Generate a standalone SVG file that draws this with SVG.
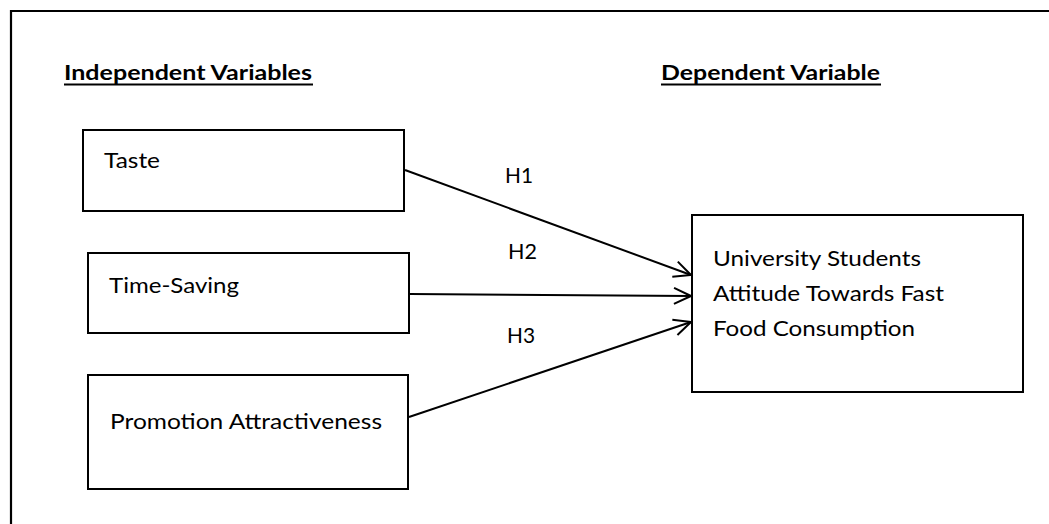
<svg xmlns="http://www.w3.org/2000/svg" width="1049" height="524" viewBox="0 0 1049 524">
<style>
.box{fill:#fff;stroke:#000;stroke-width:2}
.t{font-family:Lato,"Open Sans","Liberation Sans",sans-serif;font-size:21px;fill:#000}
.h{font-family:Lato,"Open Sans","Liberation Sans",sans-serif;font-size:21px;font-weight:bold;fill:#000}
.c{stroke:#000;stroke-width:2;fill:none;marker-end:url(#arr)}
</style>
<defs>
<marker id="arr" markerUnits="userSpaceOnUse" viewBox="0 0 22 22" refX="20" refY="11" markerWidth="22" markerHeight="22" orient="auto">
<path d="M3,3 L20,11 L3,19" fill="none" stroke="#000" stroke-width="2"/>
</marker>
</defs>
<rect width="1049" height="524" fill="#fff"/>
<path d="M11,524 V11 H1049" fill="none" stroke="#000" stroke-width="2.2"/>
<g id="header-independent">
<text class="h" x="64" y="80" textLength="248" lengthAdjust="spacingAndGlyphs">Independent Variables</text>
<line x1="64" y1="84.5" x2="313" y2="84.5" stroke="#000" stroke-width="2"/>
</g>
<g id="header-dependent">
<text class="h" x="661" y="80" textLength="219" lengthAdjust="spacingAndGlyphs">Dependent Variable</text>
<line x1="661" y1="84.5" x2="881" y2="84.5" stroke="#000" stroke-width="2"/>
</g>
<g id="connectors">
<line class="c" x1="405" y1="170" x2="691" y2="275"/>
<line class="c" x1="410" y1="294" x2="691" y2="296"/>
<line class="c" x1="409" y1="417" x2="691" y2="322"/>
<text class="t" x="505" y="183" textLength="28" lengthAdjust="spacingAndGlyphs">H1</text>
<text class="t" x="508" y="259" textLength="29" lengthAdjust="spacingAndGlyphs">H2</text>
<text class="t" x="507" y="343" textLength="28" lengthAdjust="spacingAndGlyphs">H3</text>
</g>
<g id="taste">
<rect class="box" x="83" y="130" width="321" height="81"/>
<text class="t" x="104" y="168" textLength="56" lengthAdjust="spacingAndGlyphs">Taste</text>
</g>
<g id="time-saving">
<rect class="box" x="88" y="253" width="321" height="80"/>
<text class="t" x="109" y="293" textLength="130" lengthAdjust="spacingAndGlyphs">Time-Saving</text>
</g>
<g id="promotion">
<rect class="box" x="88" y="375" width="320" height="114"/>
<text class="t" x="110" y="429" textLength="272" lengthAdjust="spacingAndGlyphs">Promotion Attractiveness</text>
</g>
<g id="attitude">
<rect class="box" x="692" y="215" width="331" height="177"/>
<text class="t" x="713" y="266" textLength="208" lengthAdjust="spacingAndGlyphs">University Students</text>
<text class="t" x="713" y="301" textLength="231" lengthAdjust="spacingAndGlyphs">Attitude Towards Fast</text>
<text class="t" x="713" y="336" textLength="202" lengthAdjust="spacingAndGlyphs">Food Consumption</text>
</g>
</svg>
